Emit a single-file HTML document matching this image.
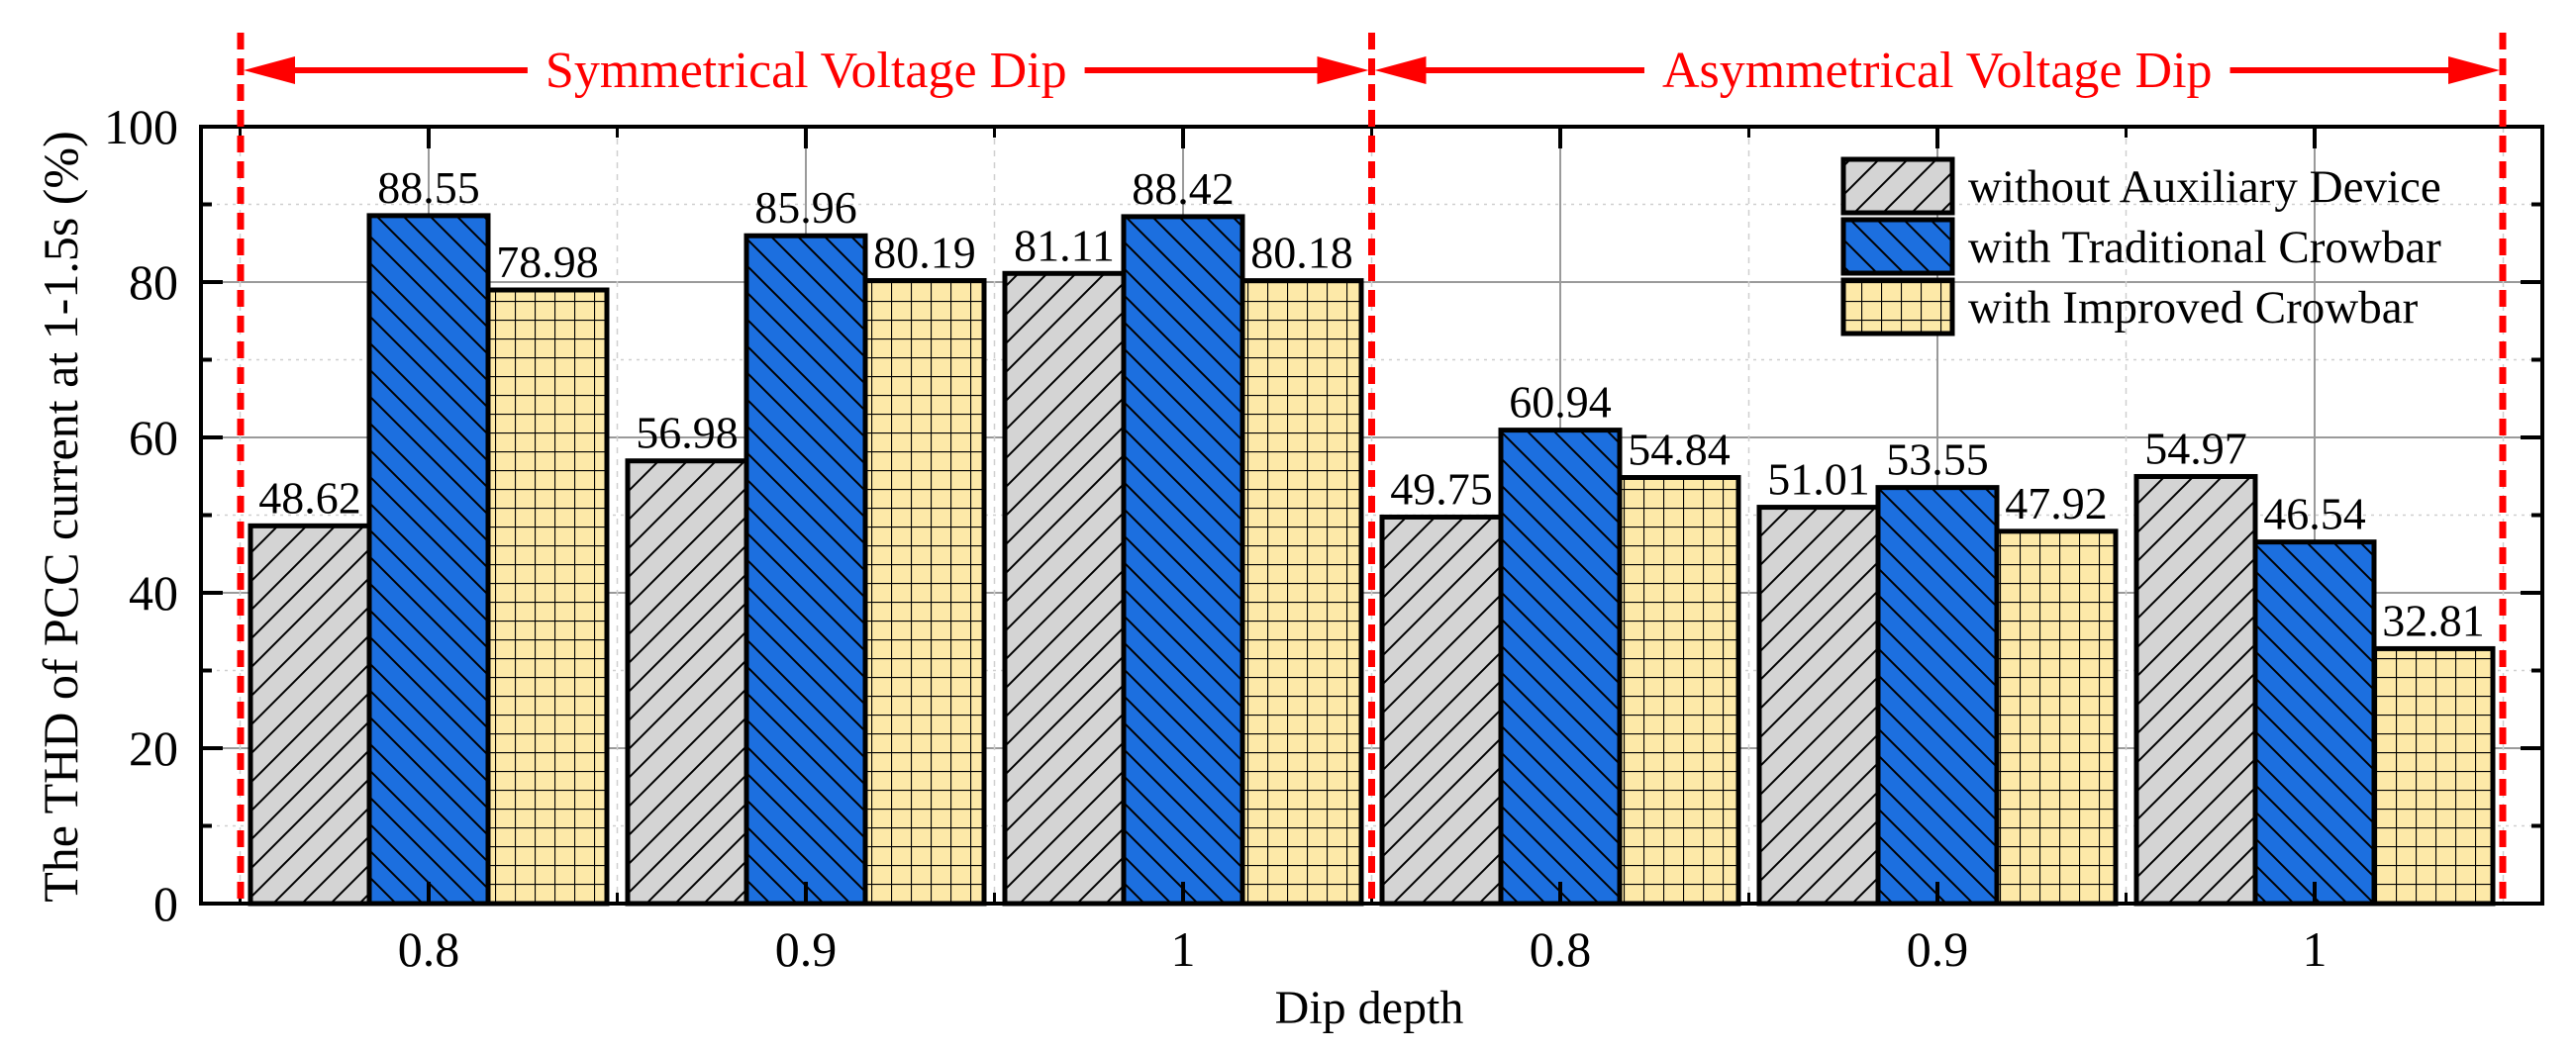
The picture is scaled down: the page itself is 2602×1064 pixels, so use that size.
<!DOCTYPE html>
<html><head><meta charset="utf-8"><style>
html,body{margin:0;padding:0;background:#fff;}
svg{display:block;font-family:"Liberation Serif","Times New Roman",serif;}
</style></head><body>
<svg id="chart" width="2602" height="1064" viewBox="0 0 2602 1064" xmlns="http://www.w3.org/2000/svg">
<defs>
<pattern id="pGray" patternUnits="userSpaceOnUse" width="29" height="29">
<rect width="29" height="29" fill="#d4d4d4"/>
<path d="M-2,31 L31,-2 M-2,2 L2,-2 M27,31 L31,27" stroke="#000" stroke-width="2"/>
</pattern>
<pattern id="pBlue" patternUnits="userSpaceOnUse" width="27" height="27">
<rect width="27" height="27" fill="#1c6fdf"/>
<path d="M-2,-2 L29,29 M25,-2 L29,2 M-2,25 L2,29" stroke="#000" stroke-width="2"/>
</pattern>
<pattern id="pYel" patternUnits="userSpaceOnUse" width="20" height="19">
<rect width="20" height="19" fill="#fde9a8"/>
<path d="M0,0 V19 M0,0 H20" stroke="#000" stroke-width="2.2"/>
</pattern>
</defs>
<g id="grid"></g>
<g id="bars"></g>
<g id="labels"></g>
<rect x="203" y="128" width="2365" height="785" fill="none" stroke="#000" stroke-width="4"/>
<g id="ticks"></g>
<g id="annot"></g>
<text transform="translate(78,522) rotate(-90)" text-anchor="middle" font-size="50">The THD of PCC current at 1-1.5s (%)</text>
<text x="1383" y="1034" text-anchor="middle" font-size="48">Dip depth</text>
<g>
<rect x="1862" y="161" width="110" height="54" fill="url(#pGray)" stroke="#000" stroke-width="5"/>
<text x="1988" y="204" font-size="47">without Auxiliary Device</text>
<rect x="1862" y="222" width="110" height="54" fill="url(#pBlue)" stroke="#000" stroke-width="5"/>
<text x="1988" y="265" font-size="47">with Traditional Crowbar</text>
<rect x="1862" y="283" width="110" height="54" fill="url(#pYel)" stroke="#000" stroke-width="5"/>
<text x="1988" y="326" font-size="47">with Improved Crowbar</text>
</g>
</svg>
<script>
const categories = ["0.8","0.9","1","0.8","0.9","1"];
const withoutAux = [48.62,56.98,81.11,49.75,51.01,54.97];
const traditional = [88.55,85.96,88.42,60.94,53.55,46.54];
const improved = [78.98,80.19,80.18,54.84,47.92,32.81];
const yTicks = [0,20,40,60,80,100];
const valueLabels = [
  ["48.62","56.98","81.11","49.75","51.01","54.97"],
  ["88.55","85.96","88.42","60.94","53.55","46.54"],
  ["78.98","80.19","80.18","54.84","47.92","32.81"]
];

const NS="http://www.w3.org/2000/svg";
const L=203,R=2568,T=128,B=913,STEP=381,PAD=(R-L-6*STEP)/2,BW=120;
function xC(i){return L+PAD+(i+0.5)*STEP;}
function y(v){return B-v*(B-T)/100;}
function mk(tag,parent,attrs){const e=document.createElementNS(NS,tag);for(const k in attrs)e.setAttribute(k,attrs[k]);parent.appendChild(e);return e;}
const grid=document.getElementById('grid'),bars=document.getElementById('bars'),labels=document.getElementById('labels'),ticks=document.getElementById('ticks'),annot=document.getElementById('annot');

for(let v=10;v<100;v+=10){
  const major=v%20===0;
  const g=mk('line',grid,{x1:L,x2:R,y1:y(v),y2:y(v),stroke:major?'#9a9a9a':'#cfcfcf','stroke-width':major?2:1.5,'stroke-dasharray':major?'none':'3,5'});
  
  
}
for(let i=0;i<categories.length;i++){
  const g=mk('line',grid,{x1:xC(i),x2:xC(i),y1:T,y2:B,stroke:'#9a9a9a','stroke-width':2});
  
  
  const b=xC(i)-STEP/2;
  const d=mk('line',grid,{x1:b,x2:b,y1:T,y2:B,stroke:'#cfcfcf','stroke-width':1.5,'stroke-dasharray':'6,6'});
  
  
}
const lastB=xC(categories.length-1)+STEP/2;
const dl=mk('line',grid,{x1:lastB,x2:lastB,y1:T,y2:B,stroke:'#cfcfcf','stroke-width':1.5,'stroke-dasharray':'6,6'});



const series=[[withoutAux,'url(#pGray)','without'],[traditional,'url(#pBlue)','traditional'],[improved,'url(#pYel)','improved']];
series.forEach((s,si)=>{
  s[0].forEach((v,i)=>{
    const x0=xC(i)+(si-1)*BW-BW/2;
    const r=mk('rect',bars,{x:x0,y:y(v),width:BW,height:B-y(v),fill:s[1],stroke:'#000','stroke-width':5});
    
    
    const t=mk('text',labels,{x:x0+BW/2,y:y(v)-13,'text-anchor':'middle','font-size':46});
    t.textContent=valueLabels[si][i];
    
    
  });
});

for(let v=0;v<=100;v+=10){
  const major=v%20===0,len=major?22:11;
  [[L,L+len],[R,R-len]].forEach(p=>{
    const t=mk('line',ticks,{x1:p[0],x2:p[1],y1:y(v),y2:y(v),stroke:'#000','stroke-width':4});
    
    
  });
}
yTicks.forEach(v=>{
  const t=mk('text',ticks,{x:180,y:y(v)+17,'text-anchor':'end','font-size':50});
  t.textContent=String(v);
  
  
});
categories.forEach((c,i)=>{
  [[B,B-22],[T,T+22]].forEach(p=>{
    const t=mk('line',ticks,{x1:xC(i),x2:xC(i),y1:p[0],y2:p[1],stroke:'#000','stroke-width':4});
    
    
  });
  const b=xC(i)-STEP/2;
  [[B,B-11],[T,T+11]].forEach(p=>{
    const t=mk('line',ticks,{x1:b,x2:b,y1:p[0],y2:p[1],stroke:'#000','stroke-width':3});
    
    
  });
  const lb=mk('text',ticks,{x:xC(i),y:976,'text-anchor':'middle','font-size':50});
  lb.textContent=c;
  
  
});

const redXs=[243,(xC(2)+xC(3))/2,2528];
redXs.forEach(x=>{
  const l=mk('line',annot,{x1:x,x2:x,y1:33,y2:913,stroke:'#ff0000','stroke-width':7,'stroke-dasharray':'17,9'});
  
  
});
const AY=71;
function arrowSpan(x1,x2,label,name){
  const cx=(x1+x2)/2;
  const t=mk('text',annot,{x:cx,y:AY+17,'text-anchor':'middle','font-size':52,fill:'#ff0000'});
  t.textContent=label;
  
  
  const w=t.getComputedTextLength()/2+18;
  const l1=mk('line',annot,{x1:x1+50,x2:cx-w,y1:AY,y2:AY,stroke:'#ff0000','stroke-width':6});
  
  
  const l2=mk('line',annot,{x1:cx+w,x2:x2-50,y1:AY,y2:AY,stroke:'#ff0000','stroke-width':6});
  
  
  const h1=mk('polygon',annot,{points:`${x1+3},${AY} ${x1+55},${AY-14} ${x1+55},${AY+14}`,fill:'#ff0000'});
  
  
  const h2=mk('polygon',annot,{points:`${x2-3},${AY} ${x2-55},${AY-14} ${x2-55},${AY+14}`,fill:'#ff0000'});
  
  
}
arrowSpan(redXs[0],redXs[1],'Symmetrical Voltage Dip','symmetrical-dip');
arrowSpan(redXs[1],redXs[2],'Asymmetrical Voltage Dip','asymmetrical-dip');
</script>
</body></html>
